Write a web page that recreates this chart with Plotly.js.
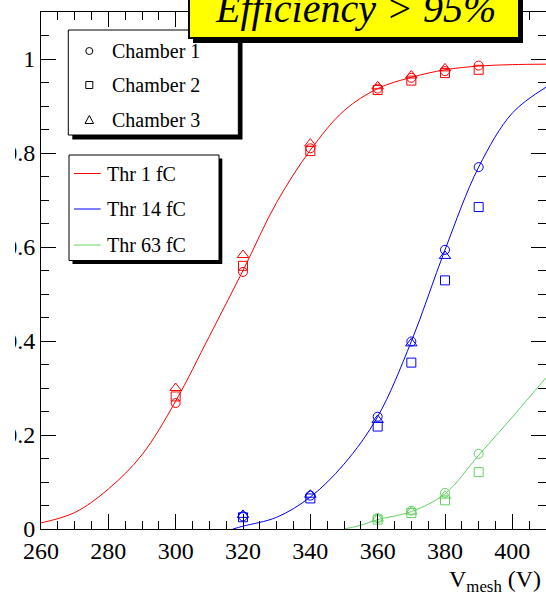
<!DOCTYPE html>
<html>
<head>
<meta charset="utf-8">
<script src="https://cdn.plot.ly/plotly-3.0.1.min.js"></script>
<style>html,body{margin:0;padding:0;background:#fff;}#chart{width:546px;height:592px;}</style>
</head>
<body>
<div id="chart"></div>
<script>
// ---------- data ----------
const vRed   = [300, 320, 340, 360, 370, 380, 390];
const redCh1 = [0.268, 0.547, 0.810, 0.937, 0.960, 0.974, 0.986];
const redCh2 = [0.282, 0.560, 0.804, 0.934, 0.954, 0.970, 0.977];
const redCh3 = [0.300, 0.583, 0.820, 0.942, 0.965, 0.980, null];

const vBlue   = [320, 340, 360, 370, 380, 390];
const blueCh1 = [0.027, 0.071, 0.239, 0.399, 0.594, 0.770];
const blueCh2 = [0.025, 0.065, 0.218, 0.354, 0.529, 0.685];
const blueCh3 = [0.030, 0.073, 0.232, 0.395, 0.581, null];

const vGreen   = [360, 370, 380, 390];
const greenCh1 = [0.023, 0.039, 0.077, 0.160];
const greenCh2 = [0.020, 0.034, 0.061, 0.121];
const greenCh3 = [0.022, 0.037, 0.071, null];

// fitted curves (read at sample voltages)
const fitRedX   = [260, 270, 280, 290, 300, 310, 320, 330, 340, 350, 360, 370, 380, 390, 400, 410];
const fitRedY   = [0.013, 0.035, 0.085, 0.158, 0.272, 0.410, 0.550, 0.695, 0.806, 0.890, 0.937, 0.961, 0.977, 0.985, 0.988, 0.989];
const fitBlueX  = [317, 320, 330, 340, 350, 360, 370, 380, 390, 400, 410];
const fitBlueY  = [0.000, 0.006, 0.025, 0.068, 0.138, 0.239, 0.399, 0.594, 0.770, 0.885, 0.940];
const fitGreenX = [350, 355, 360, 370, 380, 390, 400, 410];
const fitGreenY = [0.000, 0.008, 0.020, 0.037, 0.075, 0.157, 0.238, 0.322];

const thrLabels     = ['Thr 1 fC', 'Thr 14 fC', 'Thr 63 fC'];
const chamberLabels = ['Chamber 1', 'Chamber 2', 'Chamber 3'];
const titleText     = 'Efficiency &gt; 95%';
const xTitleText    = 'V<sub>mesh</sub> (V)';

// ---------- styles ----------
const RED = '#ff0000', BLUE = '#0000ff', GREEN = 'rgb(100,210,100)';
const colors = [RED, BLUE, GREEN];
const symbols = ['circle-open', 'square-open', 'triangle-up-open'];
const msizes = [9, 9, 10];
const FONT = 'Liberation Serif, Times New Roman, serif';

const sets = [
  {x: vRed,   ch: [redCh1, redCh2, redCh3],       fx: fitRedX,   fy: fitRedY},
  {x: vBlue,  ch: [blueCh1, blueCh2, blueCh3],    fx: fitBlueX,  fy: fitBlueY},
  {x: vGreen, ch: [greenCh1, greenCh2, greenCh3], fx: fitGreenX, fy: fitGreenY}
];

const traces = [];
sets.forEach((s, i) => {
  traces.push({x: s.fx, y: s.fy, type: 'scatter', mode: 'lines', name: thrLabels[i],
    line: {color: colors[i], width: 1, shape: 'spline', smoothing: 1}, hoverinfo: 'skip'});
});
sets.forEach((s, i) => {
  s.ch.forEach((vals, c) => {
    traces.push({x: s.x, y: vals, type: 'scatter', mode: 'markers', name: chamberLabels[c],
      marker: {symbol: symbols[c], size: msizes[c], color: colors[i], line: {width: 1, color: colors[i]}}});
  });
});

// ---------- pixel -> paper helpers (plot area: x 41..546, y 12..529) ----------
const L = 41, W = 505, B = 529, H = 517;
const P = px => (px - L) / W;
const Q = py => (B - py) / H;
const rect = (x0, y0, x1, y1, fill, lineColor, lw) => ({type: 'rect', xref: 'paper', yref: 'paper',
  x0: P(x0), x1: P(x1), y0: Q(y1), y1: Q(y0), fillcolor: fill,
  line: {color: lineColor || fill, width: lw === undefined ? 0 : lw}, layer: 'above'});
const seg = (x0, y0, x1, y1, color) => ({type: 'line', xref: 'paper', yref: 'paper',
  x0: P(x0), x1: P(x1), y0: Q(y0), y1: Q(y1), line: {color: color, width: 1}, layer: 'above'});

const shapes = [];
// hide left part of y labels (reference is cropped there)
shapes.push(rect(-60, 0, 15, 592, '#ffffff'));
// legend 1 (chambers)
shapes.push(rect(72.3, 34, 242.5, 139.5, '#000000'));
shapes.push(rect(68.3, 30, 238.3, 135, '#ffffff', '#000000', 1));
const lx = 89.3, rows1 = [51, 85, 120];
shapes.push({type: 'circle', xref: 'paper', yref: 'paper', x0: P(lx - 3.5), x1: P(lx + 3.5),
  y0: Q(rows1[0] + 3.5), y1: Q(rows1[0] - 3.5), line: {color: '#000', width: 1}, layer: 'above'});
shapes.push(rect(lx - 3.5, rows1[1] - 3.5, lx + 3.5, rows1[1] + 3.5, 'rgba(0,0,0,0)', '#000000', 1));
shapes.push({type: 'path', xref: 'paper', yref: 'paper',
  path: `M ${P(lx)} ${Q(rows1[2] - 4.5)} L ${P(lx - 4.3)} ${Q(rows1[2] + 3.5)} L ${P(lx + 4.3)} ${Q(rows1[2] + 3.5)} Z`,
  line: {color: '#000', width: 1}, layer: 'above'});
// legend 2 (thresholds)
shapes.push(rect(72.5, 158.5, 222.3, 264, '#000000'));
shapes.push(rect(69, 155, 219, 260.5, '#ffffff', '#000000', 1));
const rows2 = [173.5, 209, 245];
rows2.forEach((r, i) => shapes.push(seg(74, r, 100.7, r, colors[i])));
// title box
shapes.push(rect(193, -10, 523, 43, '#000000'));
shapes.push(rect(189, -20, 519, 38, '#ffff00', '#000000', 2));

const annotations = [];
chamberLabels.forEach((t, i) => annotations.push({text: t, xref: 'paper', yref: 'paper',
  x: P(109.5), y: Q(rows1[i]), xanchor: 'left', yanchor: 'middle', showarrow: false,
  font: {family: FONT, size: 20, color: '#000'}}));
thrLabels.forEach((t, i) => annotations.push({text: t, xref: 'paper', yref: 'paper',
  x: P(105), y: Q(rows2[i]), xanchor: 'left', yanchor: 'middle', showarrow: false,
  font: {family: FONT, size: 20, color: '#000'}}));
annotations.push({text: titleText, xref: 'paper', yref: 'paper', x: P(355), y: Q(8.5),
  xanchor: 'center', yanchor: 'middle', showarrow: false,
  font: {family: FONT, size: 40, color: '#000', style: 'italic'}});
annotations.push({text: xTitleText, xref: 'paper', yref: 'paper', x: P(543), y: Q(564),
  xanchor: 'right', yanchor: 'top', showarrow: false,
  font: {family: FONT, size: 24, color: '#000'}});

const axisCommon = {showline: true, linecolor: '#000', linewidth: 1, mirror: 'ticks',
  ticks: 'inside', ticklen: 15, tickwidth: 1, tickcolor: '#000', showgrid: false, zeroline: false,
  tickfont: {family: FONT, size: 24, color: '#000'}};

const layout = {
  width: 546, height: 592,
  margin: {l: 41, r: 0, t: 12, b: 63, pad: 0},
  paper_bgcolor: '#fff', plot_bgcolor: '#fff',
  showlegend: false,
  xaxis: Object.assign({}, axisCommon, {range: [260, 410], tick0: 260, dtick: 20,
    minor: {dtick: 5, ticks: 'inside', ticklen: 8, tickwidth: 1, tickcolor: '#000', showgrid: false}}),
  yaxis: Object.assign({}, axisCommon, {range: [0, 1.1], tick0: 0, dtick: 0.2,
    minor: {dtick: 0.05, ticks: 'inside', ticklen: 8, tickwidth: 1, tickcolor: '#000', showgrid: false}}),
  shapes: shapes,
  annotations: annotations
};

Plotly.newPlot('chart', traces, layout, {displayModeBar: false, staticPlot: true});
</script>
</body>
</html>
